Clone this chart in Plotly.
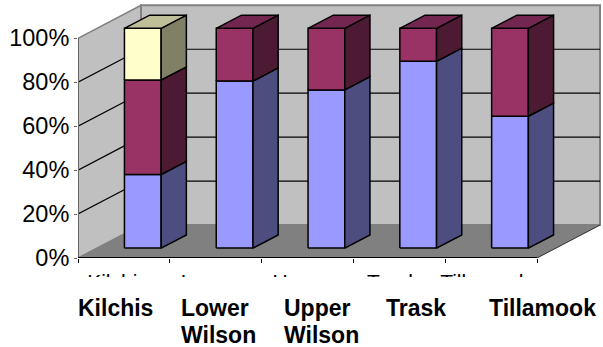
import plotly.graph_objects as go

# Share of each land-use class per watershed, in percent
watersheds = ["Kilchis", "Lower Wilson", "Upper Wilson", "Trask", "Tillamook"]
axis_labels = ["Kilchis", "Lower", "Upper", "Trask", "Tillamook"]
label_first_lines = ["Kilchis", "Lower", "Upper", "Trask", "Tillamook"]
label_second_lines = ["", "Wilson", "Wilson", "", ""]
label_starts = [0, 1.12, 2.24, 3.36, 4.48]
series_blue = [33.5, 76, 72, 85, 60]
series_purple = [43, 24, 28, 15, 40]
series_yellow = [23.5, 0, 0, 0, 0]
percent_ticks = [0, 20, 40, 60, 80, 100]

# Oblique projection: one unit of depth shifts a point right and up
DX = 63 / 91.8
DY = 15.0
BAR_NEAR, BAR_FAR = 0.30, 0.70
BAR_HALF = 0.20

FONT = "Liberation Sans, Arial, sans-serif"


def proj(x, depth, y):
    return x + depth * DX, y + depth * DY


fig = go.Figure()


def poly(points, fill, line="black", width=1.5):
    xs = [p[0] for p in points] + [points[0][0]]
    ys = [p[1] for p in points] + [points[0][1]]
    fig.add_trace(go.Scatter(
        x=xs, y=ys, mode="lines", fill="toself", fillcolor=fill,
        line=dict(color=line, width=width), hoverinfo="skip",
        showlegend=False, cliponaxis=False,
    ))


def segment(p, q, color="black", width=1.2):
    fig.add_trace(go.Scatter(
        x=[p[0], q[0]], y=[p[1], q[1]], mode="lines",
        line=dict(color=color, width=width), hoverinfo="skip",
        showlegend=False, cliponaxis=False,
    ))


n = len(watersheds)

# Walls and floor
poly([proj(0, 0, 0), proj(0, 1, 0), proj(0, 1, 100), proj(0, 0, 100)], "#C0C0C0", "#808080", 1.5)
poly([proj(0, 1, 0), proj(n, 1, 0), proj(n, 1, 100), proj(0, 1, 100)], "#C0C0C0", "#808080", 2)
poly([proj(0, 0, 0), proj(n, 0, 0), proj(n, 1, 0), proj(0, 1, 0)], "#808080", "#808080", 0.5)

# Gridlines across both walls
for t in percent_ticks[1:-1]:
    segment(proj(0, 0, t), proj(0, 1, t))
    segment(proj(0, 1, t), proj(n, 1, t))

segment(proj(n, 0, 0), proj(n, 1, 0), "#333333", 1)
segment(proj(0, 0, 0), proj(0, 0, 100), "#666666", 2)
segment(proj(0, 0, 0), proj(n, 0, 0), "black", 2)

# Stacked bars, drawn as front, side and top faces
palette = [
    (series_blue, "#9999FF", "#4D4D80", "#73739F"),
    (series_purple, "#993366", "#4D1A33", "#732650"),
    (series_yellow, "#FFFFCC", "#808066", "#BFBF99"),
]
for i in range(n):
    left, right = i + 0.5 - BAR_HALF, i + 0.5 + BAR_HALF
    base = 0
    parts = [(vals[i], front, side, top) for vals, front, side, top in palette if vals[i] > 0]
    for k, (value, front, side, top) in enumerate(parts):
        high = base + value
        poly([proj(left, BAR_NEAR, base), proj(right, BAR_NEAR, base),
              proj(right, BAR_NEAR, high), proj(left, BAR_NEAR, high)], front)
        poly([proj(right, BAR_NEAR, base), proj(right, BAR_FAR, base),
              proj(right, BAR_FAR, high), proj(right, BAR_NEAR, high)], side)
        if k == len(parts) - 1:
            poly([proj(left, BAR_NEAR, high), proj(right, BAR_NEAR, high),
                  proj(right, BAR_FAR, high), proj(left, BAR_FAR, high)], top)
        base = high

bold_labels = []
for x0, first, second in zip(label_starts, label_first_lines, label_second_lines):
    for text, shift in ((first, -35), (second, -62)):
        if text:
            bold_labels.append(dict(
                x=x0, y=0, xref="x", yref="y", text=f"<b>{text}</b>", showarrow=False,
                xanchor="left", yanchor="top", align="left", yshift=shift, xshift=-2,
                font=dict(family=FONT, size=23, color="black"),
            ))

fig.update_layout(
    width=603, height=347, autosize=False,
    margin=dict(l=78, r=0, t=0, b=89),
    paper_bgcolor="white", plot_bgcolor="white",
    showlegend=False,
    xaxis=dict(
        range=[0, 525 / 91.8], showgrid=False, zeroline=False, showline=False,
        tickmode="array", tickvals=[i + 0.43 for i in range(n)], ticktext=axis_labels,
        ticks="", ticklabelstandoff=9,
        tickfont=dict(family=FONT, size=21, color="black"),
        minor=dict(tickmode="array", tickvals=list(range(n + 1)), ticks="outside",
                   ticklen=4, tickcolor="black", tickwidth=1),
    ),
    yaxis=dict(
        range=[0, 258.3 / 2.2], showgrid=False, zeroline=False, showline=False,
        tickmode="array", tickvals=percent_ticks, ticktext=[f"{t}%" for t in percent_ticks],
        ticks="outside", ticklen=3, tickcolor="#666666", tickwidth=1,
        tickfont=dict(family=FONT, size=23.5, color="black"),
    ),
    # Band that trims the axis category labels
    shapes=[dict(type="rect", xref="paper", yref="paper", layer="above",
                 x0=-0.2, x1=1.01, y0=-0.4, y1=-19 / 258.3,
                 fillcolor="white", line=dict(width=0))],
    annotations=bold_labels,
)

fig.write_html("out.html")
